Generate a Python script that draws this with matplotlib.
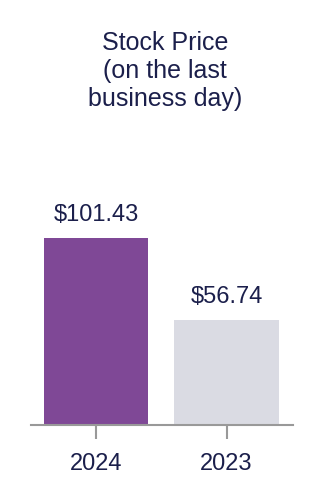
import matplotlib
matplotlib.use('Agg')
import matplotlib.pyplot as plt

# data
years = ['2024', '2023']
prices = [101.43, 56.74]
bar_colors = ['#7F4896', '#DADBE3']

plt.rcParams['font.family'] = ['Liberation Sans', 'DejaVu Sans']
text_color = '#1B1F4B'

fig = plt.figure(figsize=(3.22, 4.98), dpi=100)
ax = fig.add_axes([31 / 322, 73 / 498, 262 / 322, 295 / 498])

x = range(len(years))
bars = ax.bar(x, prices, width=0.8, color=bar_colors)
for b, p in zip(bars, prices):
    ax.text(b.get_x() + b.get_width() / 2, p + 6.5, f'${p:.2f}',
            ha='center', va='bottom', fontsize=17, color=text_color)

ax.set_xlim(-0.5, 1.51)
ax.set_ylim(0, 160)
ax.set_xticks(list(x))
ax.set_xticklabels(years, fontsize=17, color=text_color)
ax.tick_params(axis='x', length=10, width=1.5, color='#999999', pad=10)
ax.set_yticks([])
for s in ['top', 'right', 'left']:
    ax.spines[s].set_visible(False)
ax.spines['bottom'].set_color('#999999')
ax.spines['bottom'].set_linewidth(1.5)

fig.text(165 / 322, 1 - 71 / 498, 'Stock Price\n(on the last\nbusiness day)',
         ha='center', va='center', fontsize=18, color=text_color, linespacing=1.22)

fig.savefig('out.png', dpi=100)
